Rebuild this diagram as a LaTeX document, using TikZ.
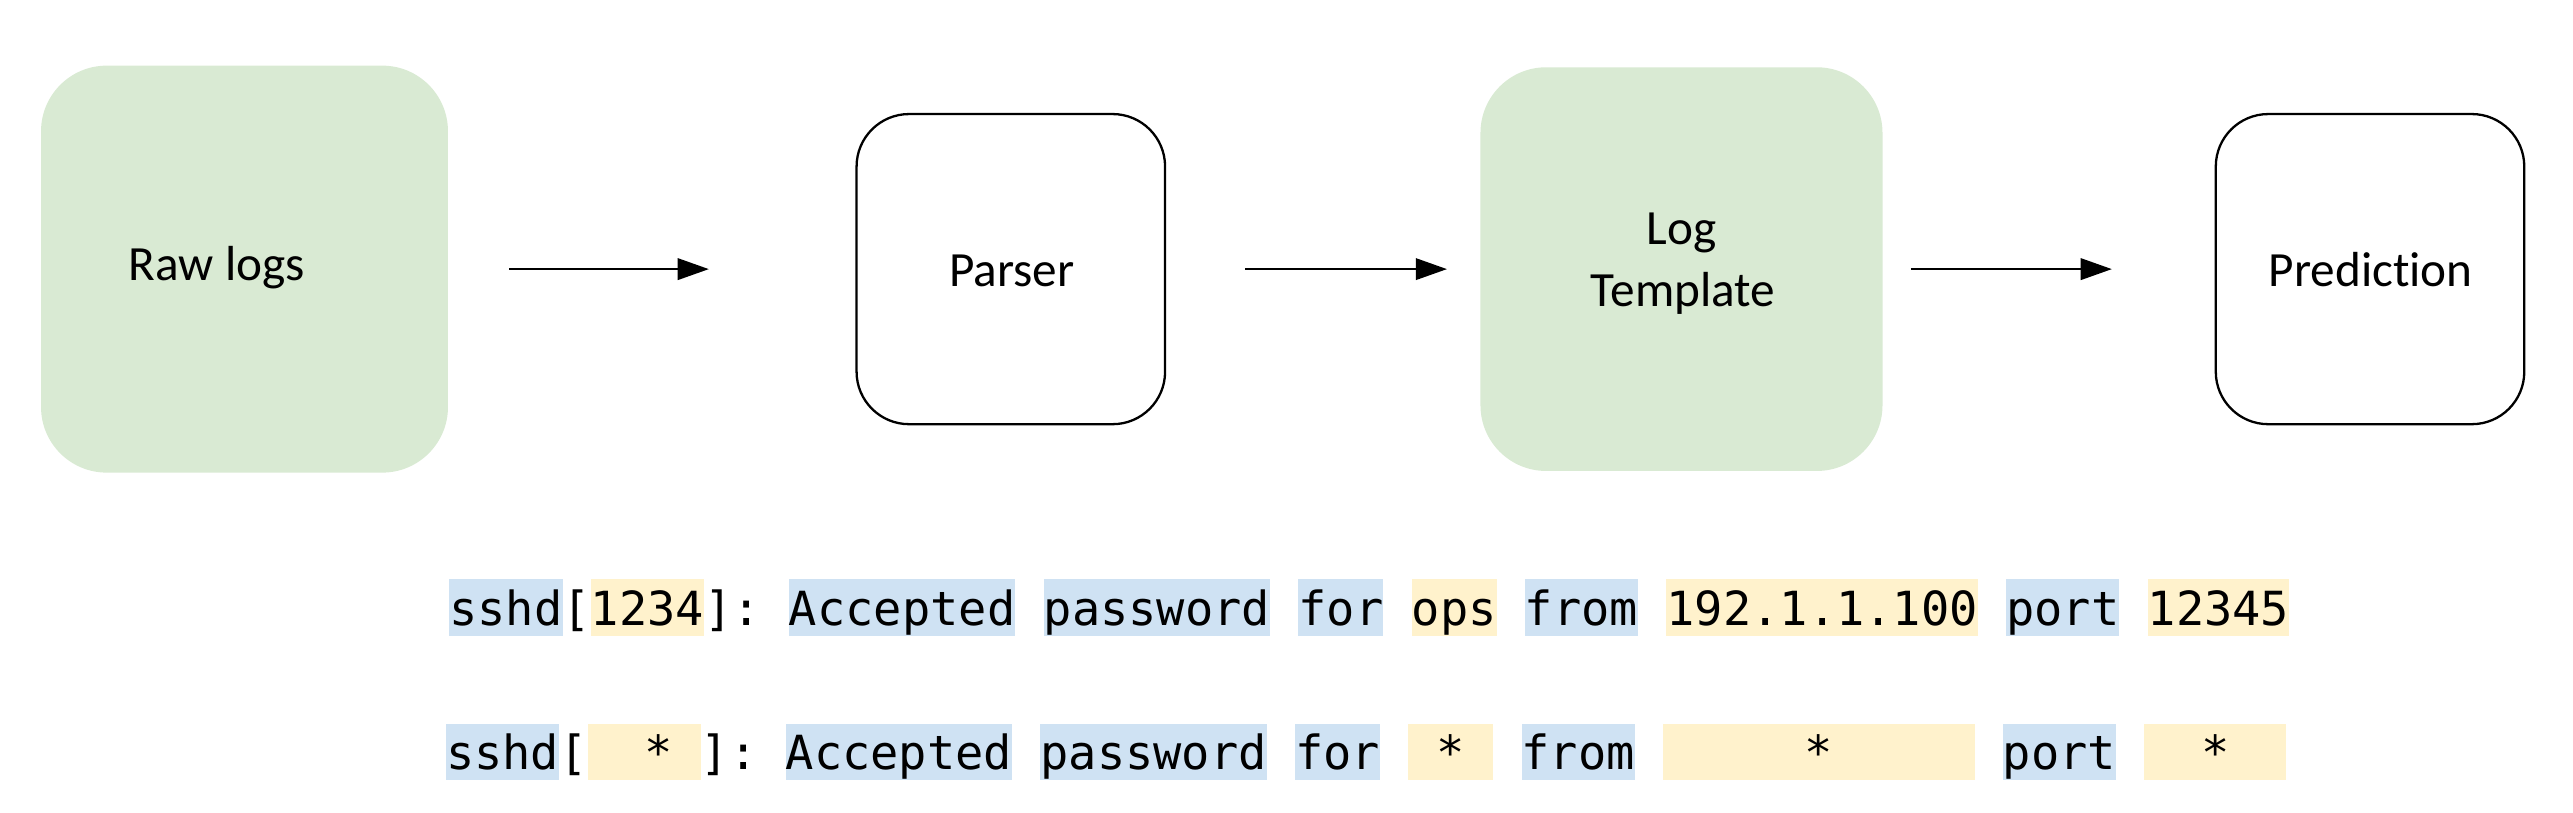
\documentclass[tikz,border=0pt]{standalone}
\usepackage{fontspec}
\setmainfont{Carlito}[Ligatures={NoCommon}]
\newfontfamily\monof{DejaVu Sans Mono}
\usetikzlibrary{arrows.meta}
\definecolor{boxgreen}{HTML}{D9EAD3}
\definecolor{hlblue}{HTML}{CFE2F3}
\definecolor{hlyellow}{HTML}{FFF2CC}
\frenchspacing
% \tk{name}{x0}{baseline}{start}{len}{fill}{text}
\newcommand\tk[7]{\node[hltok, fill=#6, minimum width={#5*17.25pt}] (#1) at ({#2+#4*17.25},#3) {#7};}
\begin{document}
\begin{tikzpicture}[x=1pt,y=-1pt,
  greenbox/.style={rectangle, rounded corners=40pt, fill=boxgreen, draw=none, inner sep=0pt},
  whitebox/.style={rectangle, rounded corners=32pt, fill=white, draw=black, line width=1.4pt, inner sep=0pt},
  lbl/.style={font=\fontsize{30}{37.8}\selectfont, inner sep=0pt, anchor=base},
  arr/.style={-{Triangle[length=19pt,width=13pt]}, line width=1.6pt},
  hltok/.style={font=\monof\fontsize{28.65}{34}\selectfont, inner sep=0pt, text height=27.9pt, text depth=6.7pt, anchor=base west}]
\useasboundingbox (0,0) rectangle (1568,495.4);
% boxes
\node[greenbox, minimum width=248pt, minimum height=248pt] (raw) at (149,164) {};
\node[whitebox, minimum width=188pt, minimum height=189pt] (parser) at (616,164) {};
\node[greenbox, minimum width=245pt, minimum height=246pt] (tmpl) at (1024.7,164) {};
\node[whitebox, minimum width=188pt, minimum height=189pt] (pred) at (1444.3,164) {};
% labels
\node[lbl] (rawtxt) at (132.2,171) {Raw logs};
\node[lbl] (parsertxt) at (616.6,174.7) {Parser};
\node[lbl] (tmpltxtA) at (1024.7,148.7) {Log};
\node[lbl] (tmpltxtB) at (1025.6,186.5) {Template};
\node[lbl] (predtxt) at (1444.7,174.7) {Prediction};
% arrows
\draw[arr, shorten <=37pt, shorten >=89.3pt] (raw) -- (parser);
\draw[arr, shorten <=48.3pt, shorten >=20.2pt] (parser) -- (tmpl);
\draw[arr, shorten <=17.1pt, shorten >=62.6pt] (tmpl) -- (pred);
% row 1: raw log line
\tk{a1}{273.6}{380.9}{0}{4}{hlblue}{sshd}
\tk{a2}{273.6}{380.9}{4}{1}{none}{[}
\tk{a3}{273.6}{380.9}{5}{4}{hlyellow}{1234}
\tk{a4}{273.6}{380.9}{9}{2}{none}{]:}
\tk{a5}{273.6}{380.9}{12}{8}{hlblue}{Accepted}
\tk{a6}{273.6}{380.9}{21}{8}{hlblue}{password}
\tk{a7}{273.6}{380.9}{30}{3}{hlblue}{for}
\tk{a8}{273.6}{380.9}{34}{3}{hlyellow}{ops}
\tk{a9}{273.6}{380.9}{38}{4}{hlblue}{from}
\tk{a10}{273.6}{380.9}{43}{11}{hlyellow}{192.1.1.100}
\tk{a11}{273.6}{380.9}{55}{4}{hlblue}{port}
\tk{a12}{273.6}{380.9}{60}{5}{hlyellow}{12345}
% row 2: template line
\tk{b1}{271.6}{468.8}{0}{4}{hlblue}{sshd}
\tk{b2}{271.6}{468.8}{4}{1}{none}{[}
\tk{b3}{271.6}{468.8}{5}{4}{hlyellow}{~~*\hphantom{*}}
\tk{b4}{271.6}{468.8}{9}{2}{none}{]:}
\tk{b5}{271.6}{468.8}{12}{8}{hlblue}{Accepted}
\tk{b6}{271.6}{468.8}{21}{8}{hlblue}{password}
\tk{b7}{271.6}{468.8}{30}{3}{hlblue}{for}
\tk{b8}{271.6}{468.8}{34}{3}{hlyellow}{*}
\tk{b9}{271.6}{468.8}{38}{4}{hlblue}{from}
\tk{b10}{271.6}{468.8}{43}{11}{hlyellow}{*}
\tk{b11}{271.6}{468.8}{55}{4}{hlblue}{port}
\tk{b12}{271.6}{468.8}{60}{5}{hlyellow}{*}
\end{tikzpicture}
\end{document}
